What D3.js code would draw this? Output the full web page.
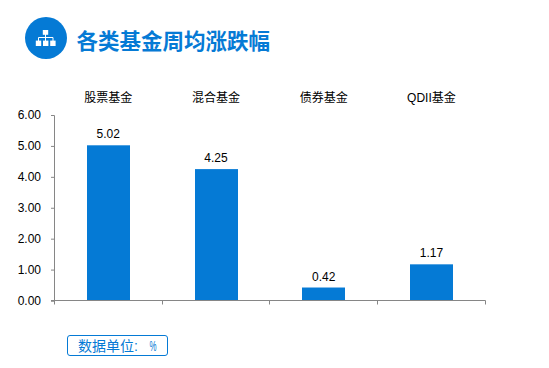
<!DOCTYPE html>
<html><head><meta charset="utf-8">
<script src="https://cdn.jsdelivr.net/npm/d3@7"></script>
<style>html,body{margin:0;padding:0;background:#fff}svg{display:block}
text{font-family:"Liberation Sans","Noto Sans CJK SC",sans-serif}</style></head>
<body><svg id="c" width="549" height="368"></svg>
<script>
const categories = ["股票基金","混合基金","债券基金","QDII基金"];
const values = [5.02,4.25,0.42,1.17];
const yTicks = [0,1,2,3,4,5,6];
const titleText = "各类基金周均涨跌幅";
const unitText = "数据单位:";
const unitMark = "%";
const blue = "#057ad5", axisC = "#868686";
const svg = d3.select("#c");
const x = d3.scaleBand().domain(categories).range([54.3,485.3]);
const y = d3.scaleLinear().domain([0,6]).range([300.5,115]);
const bw = 43;
const mid = c => x(c)+x.bandwidth()/2;

// header
svg.append("circle").attr("cx",46).attr("cy",38).attr("r",21).attr("fill",blue);
const icon = svg.append("g").attr("fill","#fff");
icon.append("rect").attr("x",42.8).attr("y",30).attr("width",5.4).attr("height",4.8);
[35.8,43,50.2].forEach(px=>icon.append("rect").attr("x",px).attr("y",40.6).attr("width",5.4).attr("height",5.4));
icon.append("path").attr("d","M45.5 34V41M38.5 41V37.5H53V41").attr("fill","none").attr("stroke","#fff").attr("stroke-width",1);
svg.append("text").attr("x",76.5).attr("y",49).attr("font-size",21.5).attr("font-weight",700).attr("fill",blue).text(titleText);

// bars
svg.selectAll("rect.bar").data(values).join("rect").attr("class","bar")
 .attr("x",(d,i)=>Math.round(mid(categories[i])-bw/2+.2)).attr("width",bw)
 .attr("y",d=>y(d)).attr("height",d=>y(0)-y(d)).attr("fill",blue);
svg.selectAll("text.val").data(values).join("text").attr("class","val")
 .attr("x",(d,i)=>mid(categories[i])).attr("y",d=>y(d)-7)
 .attr("text-anchor","middle").attr("font-size",12).attr("fill","#000").text(d=>d.toFixed(2));

// y axis
const gy = svg.append("g").attr("transform","translate(54,0)")
 .call(d3.axisLeft(y).tickValues(yTicks).tickSize(3).tickPadding(10).tickFormat(d3.format(".2f")));
gy.selectAll("path,line").attr("stroke",axisC);
gy.selectAll("text").attr("font-size",12).attr("fill","#000").style("font-family",'"Liberation Sans"');
// x axis
const gx = svg.append("g").attr("transform","translate(0,300.5)");
gx.append("line").attr("x1",51).attr("x2",485.5).attr("stroke",axisC);
gx.selectAll("line.t").data([...categories.map(c=>x(c)),x.range()[1]]).join("line").attr("class","t")
 .attr("x1",d=>Math.floor(d)+.5).attr("x2",d=>Math.floor(d)+.5).attr("y1",0).attr("y2",4).attr("stroke",axisC);

// top category labels
svg.selectAll("text.cat").data(categories).join("text").attr("class","cat")
 .attr("x",c=>mid(c)).attr("y",102).attr("text-anchor","middle")
 .attr("font-size",12).attr("fill","#000").text(c=>c);

// unit box
svg.append("rect").attr("x",67.5).attr("y",335.5).attr("width",100).attr("height",20).attr("rx",2.5)
 .attr("fill","#fff").attr("stroke",blue);
svg.append("text").attr("x",78).attr("y",350.5).attr("font-size",14).attr("fill",blue).text(unitText);
svg.append("text").attr("x",149.5).attr("y",350.5).attr("font-size",14).attr("textLength",7).attr("lengthAdjust","spacingAndGlyphs").attr("fill",blue).text(unitMark);
</script></body></html>
